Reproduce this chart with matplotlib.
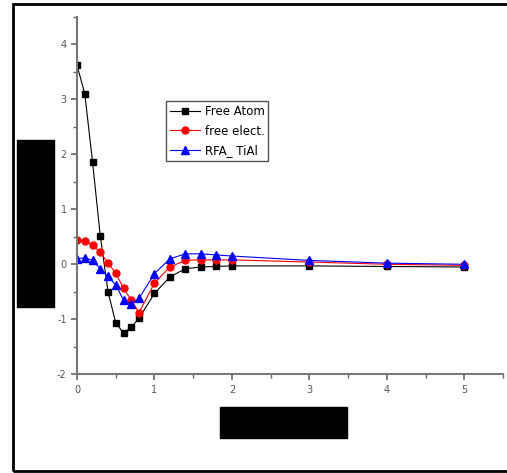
import matplotlib
matplotlib.use("Agg")
import matplotlib.pyplot as plt
from matplotlib.patches import Rectangle
from matplotlib.ticker import MultipleLocator

plt.rcParams['axes.unicode_minus'] = False

x = [0, 0.1, 0.2, 0.3, 0.4, 0.5, 0.6, 0.7, 0.8, 1.0, 1.2, 1.4, 1.6, 1.8, 2.0, 3, 4, 5]
free_atom = [3.62, 3.10, 1.86, 0.51, -0.50, -1.07, -1.25, -1.15, -0.98, -0.53, -0.23,
             -0.08, -0.05, -0.04, -0.03, -0.03, -0.04, -0.05]
free_elect = [0.44, 0.43, 0.35, 0.22, 0.02, -0.16, -0.44, -0.65, -0.88, -0.34, -0.05,
              0.07, 0.08, 0.08, 0.08, 0.04, 0.0, -0.02]
rfa_tial = [0.10, 0.12, 0.07, -0.08, -0.22, -0.38, -0.65, -0.73, -0.62, -0.17, 0.10,
            0.19, 0.19, 0.17, 0.15, 0.07, 0.02, 0.0]

fig = plt.figure(figsize=(5.07, 4.73), dpi=100)
ax = fig.add_axes([0.152, 0.209, 0.840, 0.755])

ax.plot(x, free_atom, color='black', lw=0.8, marker='s', ms=5, label='Free Atom')
ax.plot(x, free_elect, color='red', lw=0.8, marker='o', ms=5, label='free elect.')
ax.plot(x, rfa_tial, color='blue', lw=0.8, marker='^', ms=6, label='RFA_ TiAl')

ax.set_xlim(0, 5.5)
ax.set_ylim(-2, 4.5)
ax.xaxis.set_major_locator(MultipleLocator(1))
ax.xaxis.set_minor_locator(MultipleLocator(0.5))
ax.yaxis.set_major_locator(MultipleLocator(1))
ax.yaxis.set_minor_locator(MultipleLocator(0.5))
ax.set_yticks([-2, -1, 0, 1, 2, 3, 4])

for s in ['top', 'right']:
    ax.spines[s].set_visible(False)
for s in ['left', 'bottom']:
    ax.spines[s].set_color('#777777')
    ax.spines[s].set_linewidth(1.5)
ax.tick_params(which='both', direction='out', color='#666666', labelcolor='#555555',
               labelsize=7)
ax.tick_params(which='major', length=4, width=1.2)
ax.tick_params(which='minor', length=3, width=1)

ax.legend(loc='upper left', bbox_to_anchor=(0.195, 0.78), fontsize=8.5, frameon=True,
          fancybox=False, edgecolor='#555555', framealpha=1, handlelength=2.6,
          borderpad=0.3, labelspacing=0.55, handletextpad=0.4)

# outer frame and redaction boxes
W, H = 507, 473
fig.patches.append(Rectangle((13 / W, 1 - 471 / H), 600 / W, (471 - 4) / H,
                             transform=fig.transFigure, fill=False, lw=2, ec='black'))
fig.patches.append(Rectangle((17 / W, 1 - 307 / H), 37 / W, 167 / H,
                             transform=fig.transFigure, color='black'))
fig.patches.append(Rectangle((220 / W, 1 - 438 / H), 127 / W, 31 / H,
                             transform=fig.transFigure, color='black'))

fig.savefig('out.png', dpi=100)
